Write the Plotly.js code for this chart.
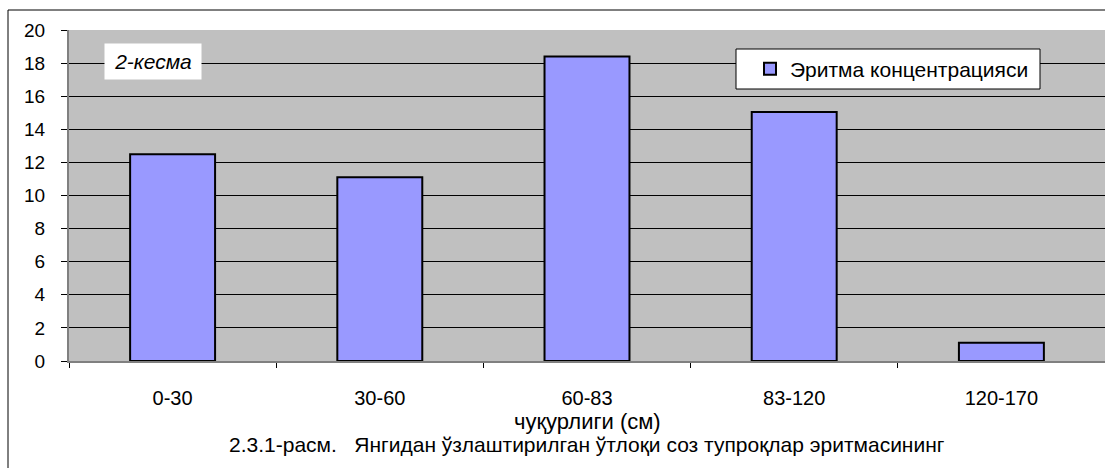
<!DOCTYPE html>
<html>
<head>
<meta charset="utf-8">
<script src="https://cdn.plot.ly/plotly-3.0.1.min.js"></script>
<style>html,body{margin:0;padding:0;background:#fff;}#chart{width:1105px;height:468px;}</style>
</head>
<body>
<div id="chart"></div>
<script>
const categories = ["0-30", "30-60", "60-83", "83-120", "120-170"];
const values = [12.5, 11.1, 18.4, 15.05, 1.1];
const yTicks = [0, 2, 4, 6, 8, 10, 12, 14, 16, 18, 20];
const seriesName = "Эритма концентрацияси";
const axisTitle = "чуқурлиги (см)";
const caption = "2.3.1-расм.&nbsp;&nbsp;&nbsp;Янгидан ўзлаштирилган ўтлоқи соз тупроқлар эритмасининг";
const boxLabel = "2-кесма";

const W = 1105, H = 468, L = 69, R = 0, T = 30, B = 107;
const pw = W - L - R, ph = H - T - B;
const px = x => (x - L) / pw;
const py = y => (H - B - y) / ph;

const font = "Liberation Sans, Arial, sans-serif";

const trace = {
  type: "bar",
  x: categories,
  y: values,
  name: seriesName,
  width: 0.41,
  marker: { color: "#9999FF", line: { color: "#000000", width: 2 } },
  showlegend: true
};

const layout = {
  width: W, height: H,
  margin: { l: L, r: R, t: T, b: B, pad: 0 },
  paper_bgcolor: "#ffffff",
  plot_bgcolor: "#C0C0C0",
  font: { family: font, size: 19, color: "#000" },
  showlegend: true,
  legend: {
    x: px(750), y: py(69), xanchor: "left", yanchor: "middle",
    bgcolor: "rgba(0,0,0,0)", borderwidth: 0,
    font: { family: font, size: 21, color: "#000" },
    itemwidth: 30
  },
  xaxis: {
    type: "category",
    range: [-0.5, 4.5],
    showgrid: false,
    showline: true, linecolor: "#808080", linewidth: 2,
    ticks: "outside", tickson: "boundaries", ticklen: 5, tickcolor: "#000",
    ticklabelstandoff: 18,
    tickfont: { family: font, size: 20 },
    fixedrange: true
  },
  yaxis: {
    range: [0, 20],
    tickvals: yTicks,
    ticktext: yTicks.map(String),
    showgrid: true, gridcolor: "#000000", gridwidth: 1,
    zeroline: false,
    showline: true, linecolor: "#808080", linewidth: 2,
    ticks: "outside", ticklen: 6, tickcolor: "#000",
    ticklabelstandoff: 12,
    tickfont: { family: font, size: 19 },
    fixedrange: true
  },
  shapes: [
    { type: "rect", xref: "paper", yref: "paper",
      x0: px(8), x1: px(1130), y0: py(500), y1: py(10),
      line: { color: "#000", width: 1 }, fillcolor: "rgba(0,0,0,0)", layer: "below" },
    { type: "rect", xref: "paper", yref: "paper",
      x0: px(736), x1: px(1040), y0: py(89), y1: py(49),
      line: { color: "#000", width: 1 }, fillcolor: "#ffffff", layer: "above" }
  ],
  annotations: [
    { xref: "paper", yref: "paper", x: px(153), y: py(61.5), xanchor: "center", yanchor: "middle",
      text: "<i>" + boxLabel + "</i>", showarrow: false, bgcolor: "#ffffff",
      width: 94, height: 33, font: { family: font, size: 21, color: "#000" } },
    { xref: "paper", yref: "paper", x: 0.5, y: py(421), xanchor: "center", yanchor: "middle",
      text: axisTitle, showarrow: false, font: { family: font, size: 22, color: "#000" } },
    { xref: "paper", yref: "paper", x: 0.5, y: py(444), xanchor: "center", yanchor: "middle",
      text: caption, showarrow: false, font: { family: font, size: 21, color: "#000" } }
  ]
};

Plotly.newPlot("chart", [trace], layout, { displayModeBar: false, staticPlot: true });
</script>
</body>
</html>
